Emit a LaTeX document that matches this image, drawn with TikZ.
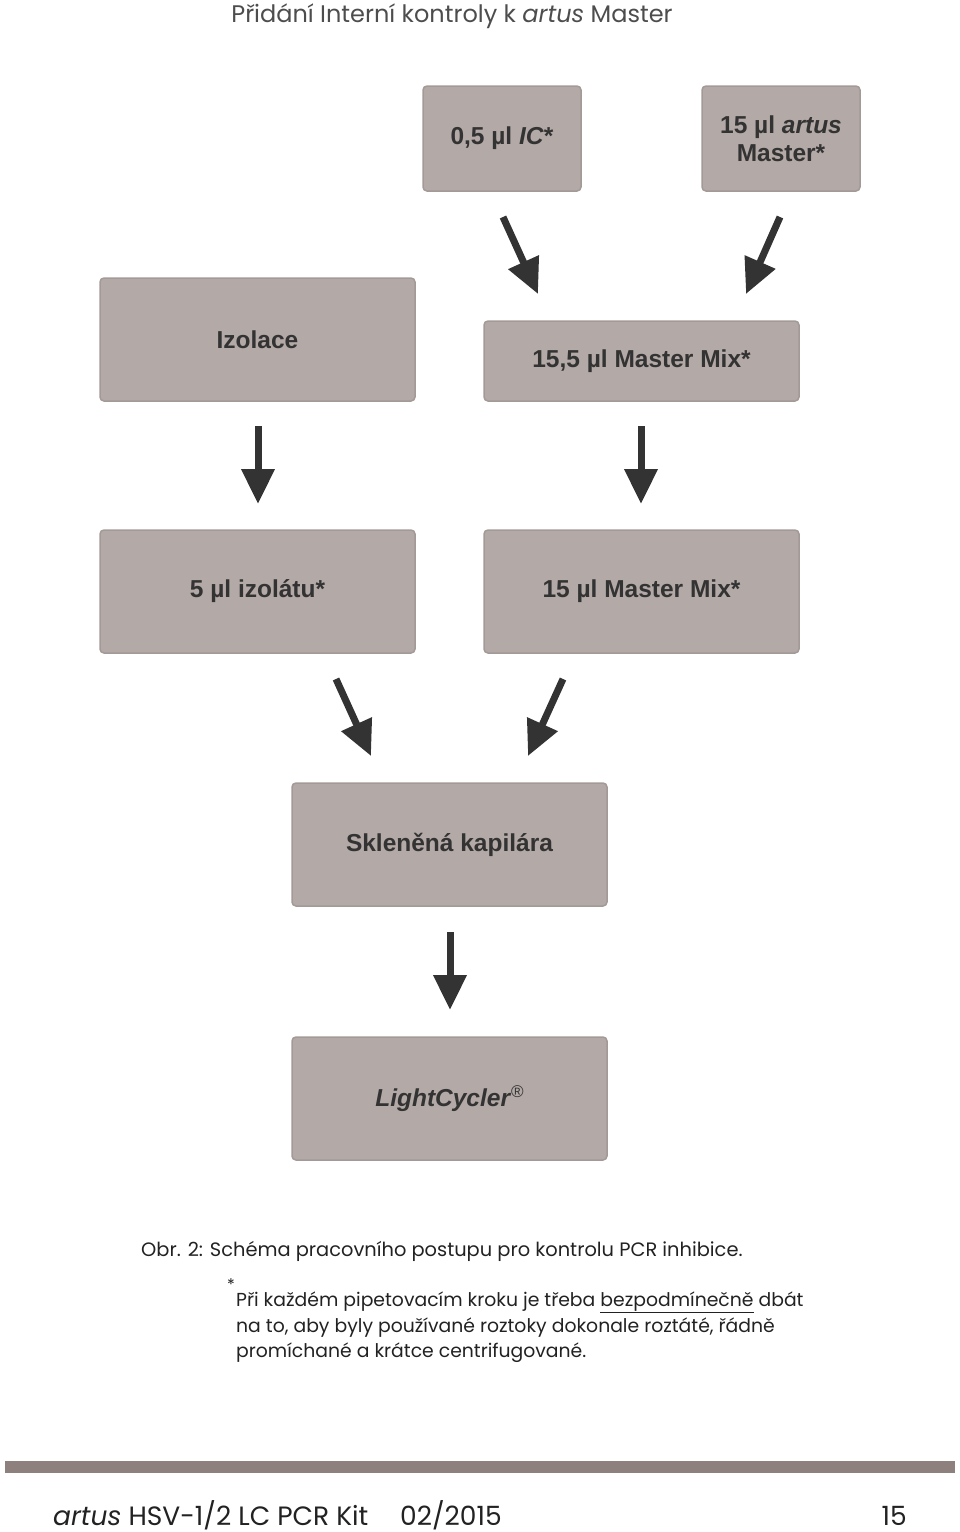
\documentclass[tikz,border=0pt]{standalone}
\usepackage{fontspec}
\setmainfont{Liberation Sans}
\newfontfamily\fut{Poppins}
\usetikzlibrary{arrows.meta}
\definecolor{boxfill}{HTML}{B3A9A6}
\definecolor{boxdraw}{HTML}{A39A97}
\definecolor{arr}{HTML}{333333}
\definecolor{barcol}{HTML}{8E817D}
\definecolor{titlecol}{HTML}{4D4D4D}
\definecolor{txtcol}{HTML}{222222}
\begin{document}
\begin{tikzpicture}[x=1pt,y=-1pt,
  box/.style={draw=boxdraw, line width=1.5pt, fill=boxfill, rounded corners=4pt,
    text=arr, font=\fontsize{24.5}{28}\selectfont\bfseries, align=center, inner sep=0pt},
  smallbox/.style={box, minimum width=158pt, minimum height=105pt},
  bigbox/.style={box, minimum width=315pt, minimum height=123pt},
  midbox/.style={box, minimum width=315pt, minimum height=80pt},
  flow/.style={draw=arr, line width=7pt, -{Triangle[length=35pt,width=32pt]}},
  captxt/.style={font=\fut\fontsize{19.4}{22}\selectfont, text=txtcol, inner sep=0pt, anchor=base west},
  notetxt/.style={captxt, font=\fut\fontsize{18.8}{22}\selectfont},
  foottxt/.style={captxt, font=\fut\fontsize{26.5}{28}\selectfont}
]
\useasboundingbox (0,0) rectangle (960,1532);

\node[font=\fut\fontsize{24}{26}\selectfont, text=titlecol, inner sep=0pt, anchor=base] (title) at (452,22) {Přidání Interní kontroly k \textit{artus} Master};

\node[smallbox] (ic) at (502,138.5) {0,5 µl \textit{IC}*};
\node[smallbox] (am) at (781,138.5) {15 µl \textit{artus}\\Master*};
\node[bigbox] (izo) at (257.5,339.5) {Izolace};
\node[midbox] (mm155) at (641.5,361) {15,5 µl Master Mix*};
\node[bigbox] (izolat) at (257.5,591.5) {5 µl izolátu*};
\node[bigbox] (mm15) at (641.5,591.5) {15 µl Master Mix*};
\node[bigbox] (kap) at (449.5,844.5) {Skleněná kapilára};
\node[bigbox] (lc) at (449.5,1098.5) {\textit{LightCycler}\raisebox{9pt}{\normalfont\fontsize{17}{17}\selectfont ®}};

\coordinate (a1s) at (503,217); \coordinate (a1e) at (538,294);
\coordinate (a2s) at (780,217); \coordinate (a2e) at (746,294);
\coordinate (a3s) at (258,426); \coordinate (a3e) at (258,504);
\coordinate (a4s) at (641,426); \coordinate (a4e) at (641,504);
\coordinate (a5s) at (336,679); \coordinate (a5e) at (371,756);
\coordinate (a6s) at (563,679); \coordinate (a6e) at (528,756);
\coordinate (a7s) at (450,932); \coordinate (a7e) at (450,1010);
\draw[flow] (a1s) -- (a1e);
\draw[flow] (a2s) -- (a2e);
\draw[flow] (a3s) -- (a3e);
\draw[flow] (a4s) -- (a4e);
\draw[flow] (a5s) -- (a5e);
\draw[flow] (a6s) -- (a6e);
\draw[flow] (a7s) -- (a7e);

\node[captxt] (cap) at (141,1256) {Obr. 2: Schéma pracovního postupu pro kontrolu PCR inhibice.};
\node[captxt, font=\fut\fontsize{16}{16}\selectfont, anchor=center] (star) at (231,1285) {*};
\node[notetxt] (f1) at (236,1306) {Při každém pipetovacím kroku je třeba \underline{bezpodmínečně} dbát};
\node[notetxt] (f2) at (236,1332) {na to, aby byly používané roztoky dokonale roztáté, řádně};
\node[notetxt] (f3) at (236,1357) {promíchané a krátce centrifugované.};

\fill[barcol] (5,1461) rectangle (955,1473);
\node[foottxt] (foot1) at (53,1525) {\textit{artus} HSV-1/2 LC PCR Kit};
\node[foottxt] (foot2) at (400,1525) {02/2015};
\node[foottxt, anchor=base east] (foot3) at (907,1525) {15};
\end{tikzpicture}
\end{document}
